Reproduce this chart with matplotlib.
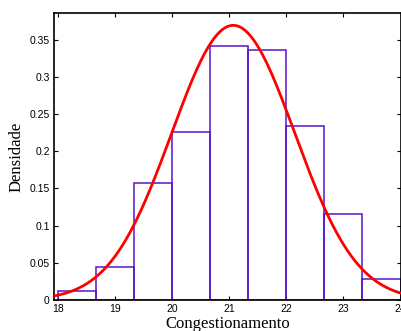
import numpy as np
import matplotlib
matplotlib.use("Agg")
import matplotlib.pyplot as plt

# histogram (density)
bin_edges = [18.0, 18.667, 19.333, 20.0, 20.667, 21.333, 22.0, 22.667, 23.333, 24.0]
densities = [0.012, 0.045, 0.158, 0.226, 0.341, 0.336, 0.234, 0.116, 0.028]

# fitted normal curve
mu = 21.07
sigma = 1.08

xticks = [18, 19, 20, 21, 22, 23, 24]
yticks = [0, 0.05, 0.1, 0.15, 0.2, 0.25, 0.3, 0.35]
ytick_labels = ["0", "0.05", "0.1", "0.15", "0.2", "0.25", "0.3", "0.35"]

fig = plt.figure(figsize=(4.02, 3.31), dpi=100)
ax = fig.add_axes([0.1343, 0.0937, 0.8620, 0.867])

widths = np.diff(bin_edges)
ax.bar(bin_edges[:-1], densities, width=widths, align="edge",
       facecolor="none", edgecolor="#5a14c8", linewidth=1.1, zorder=2)

x = np.linspace(17.9, 24.1, 400)
pdf = np.exp(-(x - mu) ** 2 / (2 * sigma ** 2)) / (sigma * np.sqrt(2 * np.pi))
ax.plot(x, pdf, color="#ff0000", linewidth=2, zorder=3)

ax.set_xlim(17.93, 24.0)
ax.set_ylim(0, 0.386)
ax.set_xticks(xticks)
ax.set_xticklabels([str(t) for t in xticks], fontfamily="Liberation Sans", fontsize=7.5)
ax.set_yticks(yticks)
ax.set_yticklabels(ytick_labels, fontfamily="Liberation Sans", fontsize=7.5)
ax.tick_params(direction="in", length=3, width=0.8, top=True, right=True, pad=3)

for s in ax.spines.values():
    s.set_linewidth(1.2)

ax.set_xlabel("Congestionamento", fontfamily="Liberation Serif", fontsize=12, labelpad=1)
ax.set_ylabel("Densidade", fontfamily="Liberation Serif", fontsize=12, labelpad=4)

fig.savefig("out.png", dpi=100)
